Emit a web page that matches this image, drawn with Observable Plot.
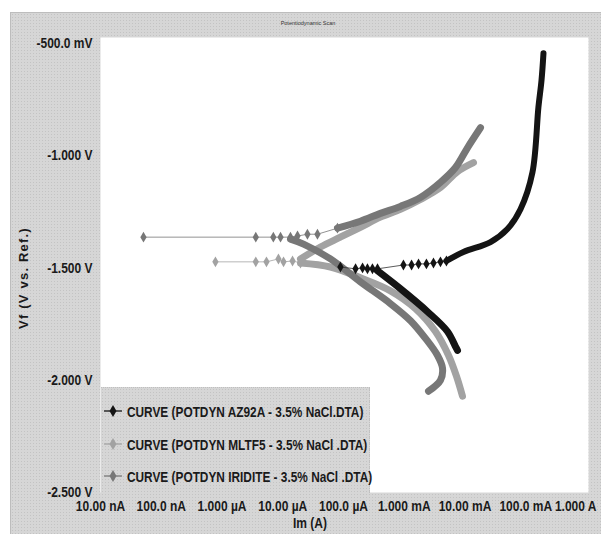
<!DOCTYPE html>
<html>
<head>
<meta charset="utf-8">
<script src="https://cdn.jsdelivr.net/npm/d3@7"></script>
<script src="https://cdn.jsdelivr.net/npm/@observablehq/plot@0.6"></script>
<style>
  body { margin: 0; background: #fff; }
  #wrap { position: relative; width: 601px; height: 534px; overflow: hidden; background: #fff;
          font-family: "Liberation Sans", Arial, sans-serif; }
  #panel { position: absolute; left: 10px; top: 12px; width: 600px; height: 530px;
           background-color: #d6d6d6; border: 1px solid #bdbdbd;
           background-image: radial-gradient(#c3c3c3 0.7px, transparent 0.8px); background-size: 3px 3px; }
  #chart { position: absolute; left: 0; top: 0; }
  #title { position: absolute; left: 268px; top: 20px; width: 80px; text-align: center;
           font-size: 5.5px; color: #333; }
  #ylabel { position: absolute; left: 23px; top: 278px; transform: translate(-50%, -50%) rotate(-90deg);
            white-space: nowrap; font-weight: bold; font-size: 13px; letter-spacing: 1.2px; color: #1a1a1a; }
  #xlabel { position: absolute; left: 293px; top: 514px; white-space: nowrap; font-weight: bold;
            font-size: 15px; color: #1a1a1a; transform-origin: 0 0; }
  #legend { position: absolute; left: 101px; top: 387px; width: 268px; height: 105px;
            background-color: #d6d6d6; border-top: 1px dotted #bfbfbf; border-right: 1px dotted #bfbfbf;
            background-image: radial-gradient(#c3c3c3 0.7px, transparent 0.8px); background-size: 3px 3px; }
  .item { position: absolute; left: 3px; height: 20px; display: flex; align-items: center;
          font-weight: bold; font-size: 15px; color: #1a1a1a; white-space: nowrap; }
  .item svg { margin-right: 5px; flex: none; }
  .item span { display: inline-block; transform-origin: 0 50%; }
</style>
</head>
<body>
<div id="wrap">
  <div id="panel"></div>
  <div id="title">Potentiodynamic Scan</div>
  <div id="chart"></div>
  <div id="ylabel">Vf (V vs. Ref.)</div>
  <div id="xlabel">Im (A)</div>
  <div id="legend"></div>
</div>
<script>
// ---- tick values & labels ----
const xTickValues = [1e-8, 1e-7, 1e-6, 1e-5, 1e-4, 1e-3, 1e-2, 1e-1, 1];
const xTickLabels = ["10.00 nA", "100.0 nA", "1.000 µA", "10.00 µA", "100.0 µA", "1.000 mA", "10.00 mA", "100.0 mA", "1.000 A"];
const yTickValues = [-0.5, -1, -1.5, -2, -2.5];
const yTickLabels = ["-500.0 mV", "-1.000 V", "-1.500 V", "-2.000 V", "-2.500 V"];

// ---- series names / colours ----
const seriesNames = ["CURVE (POTDYN AZ92A - 3.5% NaCl.DTA)", "CURVE (POTDYN MLTF5 - 3.5% NaCl .DTA)", "CURVE (POTDYN IRIDITE - 3.5% NaCl .DTA)"];
const seriesColors = ["#141414", "#a2a2a2", "#777777"];

// ---- data: [current (A), potential (V)] ----
// AZ92A
const az92aTip = [[8.9e-5,-1.496],[1.58e-4,-1.504],[2.06e-4,-1.500],[2.48e-4,-1.504],[3.0e-4,-1.504],[3.63e-4,-1.504],
  [9.7e-4,-1.487],[1.32e-3,-1.487],[1.72e-3,-1.482],[2.32e-3,-1.482],[3.03e-3,-1.478],[3.95e-3,-1.473],[4.95e-3,-1.469]];
const az92aCathodic = [[3.63e-4,-1.513],[8.67e-4,-1.593],[2.42e-3,-1.695],[5.15e-3,-1.783],[6.98e-3,-1.850],[7.53e-3,-1.867]];
const az92aAnodic = [[4.95e-3,-1.469],[9.44e-3,-1.429],[2.63e-2,-1.385],[5.0e-2,-1.327],[8.2e-2,-1.239],[0.129,-1.075],[0.162,-0.783],[0.182,-0.664],[0.196,-0.544]];
// MLTF5
const mltf5Tip = [[7.8e-7,-1.473],[3.6e-6,-1.473],[5.4e-6,-1.473],[8.5e-6,-1.460],[1.03e-5,-1.473],[1.45e-5,-1.469],[1.96e-5,-1.478]];
const mltf5Anodic = [[1.96e-5,-1.460],[4.18e-5,-1.407],[8.9e-5,-1.363],[1.9e-4,-1.319],[4.06e-4,-1.274],[8.67e-4,-1.239],[1.85e-3,-1.195],[3.95e-3,-1.142],[7.53e-3,-1.071],[1.38e-2,-1.031]];
const mltf5Cathodic = [[1.96e-5,-1.478],[6.1e-5,-1.496],[1.9e-4,-1.544],[5.94e-4,-1.602],[1.53e-3,-1.681],[3.27e-3,-1.783],[5.35e-3,-1.889],[7.24e-3,-1.982],[9.1e-3,-2.071]];
// IRIDITE
const iriditeTip = [[5.1e-8,-1.363],[3.6e-6,-1.363],[7.0e-6,-1.363],[9.2e-6,-1.363],[1.34e-5,-1.363],[1.75e-5,-1.358],[2.55e-5,-1.350],[3.73e-5,-1.350],[7.96e-5,-1.323]];
const iriditeAnodic = [[7.96e-5,-1.323],[1.9e-4,-1.292],[4.06e-4,-1.257],[8.67e-4,-1.226],[1.85e-3,-1.186],[3.95e-3,-1.119],[6.98e-3,-1.053],[1.1e-2,-0.965],[1.8e-2,-0.876]];
const iriditeCathodic = [[1.34e-5,-1.372],[2.2e-5,-1.394],[6.1e-5,-1.460],[1.9e-4,-1.562],[5.94e-4,-1.659],[1.27e-3,-1.735],[2.24e-3,-1.814],[3.52e-3,-1.889],[4.27e-3,-1.947],[3.95e-3,-2.000],[2.51e-3,-2.049]];

const X = d => d[0], Y = d => d[1];
const band = (data, color, w) => Plot.line(data, {x: X, y: Y, stroke: color, strokeWidth: w, strokeLinecap: "round", strokeLinejoin: "round", curve: "catmull-rom"});
const thin = (data, color) => Plot.line(data, {x: X, y: Y, stroke: color, strokeWidth: 1, strokeOpacity: 0.8});
const diamonds = (data, color) => Plot.dot(data, {x: X, y: Y, symbol: "diamond", r: 3.3, fill: color, stroke: null});

const [cAZ, cML, cIR] = seriesColors;

const chart = Plot.plot({
  width: 601, height: 534,
  marginLeft: 100, marginRight: 13, marginTop: 37, marginBottom: 42,
  style: {background: "transparent", fontFamily: '"Liberation Sans", Arial, sans-serif', fontSize: "15px", fontWeight: "bold", color: "#1a1a1a"},
  x: {type: "log", domain: [1e-8, 1.08], ticks: xTickValues, tickFormat: d => xTickLabels[xTickValues.indexOf(d)], tickSize: 0, tickPadding: 8, label: null},
  y: {domain: [-2.5, -0.474], ticks: yTickValues, tickFormat: d => yTickLabels[yTickValues.indexOf(d)], tickSize: 0, tickPadding: 8, label: null},
  marks: [
    Plot.frame({fill: "white", stroke: null}),
    // MLTF5
    thin(mltf5Tip, cML), diamonds(mltf5Tip, cML),
    band(mltf5Anodic, cML, 7), band(mltf5Cathodic, cML, 7),
    // IRIDITE
    thin(iriditeTip, cIR), diamonds(iriditeTip, cIR),
    band(iriditeAnodic, cIR, 7), band(iriditeCathodic, cIR, 7),
    // AZ92A
    thin(az92aTip, "#333"), diamonds(az92aTip, cAZ),
    band(az92aCathodic, cAZ, 7), band(az92aAnodic, cAZ, 6)
  ]
});
document.getElementById("chart").appendChild(chart);

// ---- condense tick labels (narrow bold look) via horizontal scale ----
const SQUEEZE = 0.8;
chart.querySelectorAll("text").forEach(t => {
  const last = t.textContent === xTickLabels[xTickLabels.length - 1];
  if (last) {
    t.setAttribute("text-anchor", "end");
    t.setAttribute("x", (10 / SQUEEZE).toFixed(2));
  }
  const tr = t.getAttribute("transform") || "";
  t.setAttribute("transform", (tr + ` scale(${SQUEEZE},1)`).trim());
});
document.getElementById("xlabel").style.transform = `scaleX(${SQUEEZE})`;

// ---- legend ----
const legend = document.getElementById("legend");
const itemTops = [13, 46, 78];
seriesNames.forEach((name, i) => {
  const div = document.createElement("div");
  div.className = "item";
  div.style.top = itemTops[i] + "px";
  const col = seriesColors[i];
  div.innerHTML = `<svg width="18" height="14" viewBox="0 0 18 14"><line x1="0" y1="7" x2="18" y2="7" stroke="${col}" stroke-width="1.3"/><path d="M9,1 L12.5,7 L9,13 L5.5,7 Z" fill="${col}"/></svg><span></span>`;
  const span = div.querySelector("span");
  span.textContent = name;
  span.style.transform = `scaleX(0.79)`;
  legend.appendChild(div);
});
</script>
</body>
</html>
